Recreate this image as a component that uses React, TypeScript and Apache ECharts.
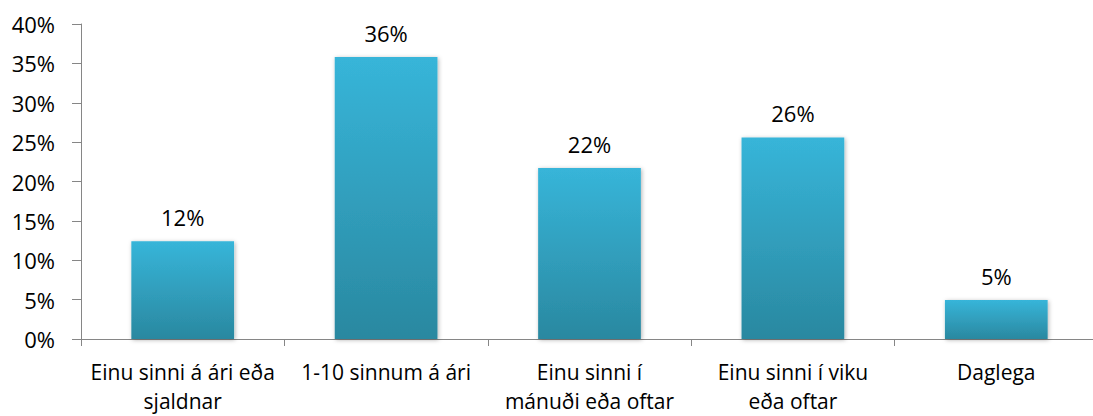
import React, { useEffect, useRef } from "react";
import * as echarts from "echarts";

const categories = [
  "Einu sinni á ári eða\nsjaldnar",
  "1-10 sinnum á ári",
  "Einu sinni í\nmánuði eða oftar",
  "Einu sinni í viku\neða oftar",
  "Daglega",
];
const values = [12.4, 35.8, 21.7, 25.6, 4.95];
const yMin = 0;
const yMax = 40;
const yStep = 5;

export default function App() {
  const ref = useRef<HTMLDivElement>(null);
  useEffect(() => {
    document.body.style.margin = "0";
    const chart = echarts.init(ref.current!, null, { renderer: "svg" });
    const font = "'Open Sans', sans-serif";
    chart.setOption({
      animation: false,
      grid: {
        left: 81,
        top: 24,
        width: 1017,
        height: 315,
        containLabel: false,
        outerBoundsMode: "none",
      },
      xAxis: {
        type: "category",
        data: categories,
        axisLine: { lineStyle: { color: "#868686", width: 1 } },
        axisTick: { show: true, length: 7, alignWithLabel: false, lineStyle: { color: "#868686" } },
        axisLabel: {
          interval: 0,
          color: "#000",
          fontSize: 21,
          fontFamily: font,
          lineHeight: 28.8,
          margin: 19,
        },
      },
      yAxis: {
        type: "value",
        min: yMin,
        max: yMax,
        interval: yStep,
        axisLine: { show: true, lineStyle: { color: "#868686", width: 1 } },
        axisTick: { show: true, length: 9, lineStyle: { color: "#868686" } },
        splitLine: { show: false },
        axisLabel: {
          color: "#000",
          fontSize: 22,
          fontFamily: font,
          margin: 26,
          formatter: "{value}%",
        },
      },
      series: [
        {
          type: "bar",
          data: values,
          barWidth: "50.5%",
          itemStyle: {
            color: new echarts.graphic.LinearGradient(0, 0, 0, 1, [
              { offset: 0, color: "#37b5d9" },
              { offset: 1, color: "#2a88a0" },
            ]),
            shadowBlur: 4,
            shadowColor: "rgba(0,0,0,0.3)",
            shadowOffsetX: 1,
            shadowOffsetY: 1,
          },
          label: {
            show: true,
            position: "top",
            distance: 13,
            color: "#000",
            fontSize: 22,
            fontFamily: font,
            formatter: (p: any) => Math.round(p.value) + "%",
          },
        },
      ],
    });
    return () => chart.dispose();
  }, []);
  return <div ref={ref} style={{ width: 1093, height: 416 }} />;
}
